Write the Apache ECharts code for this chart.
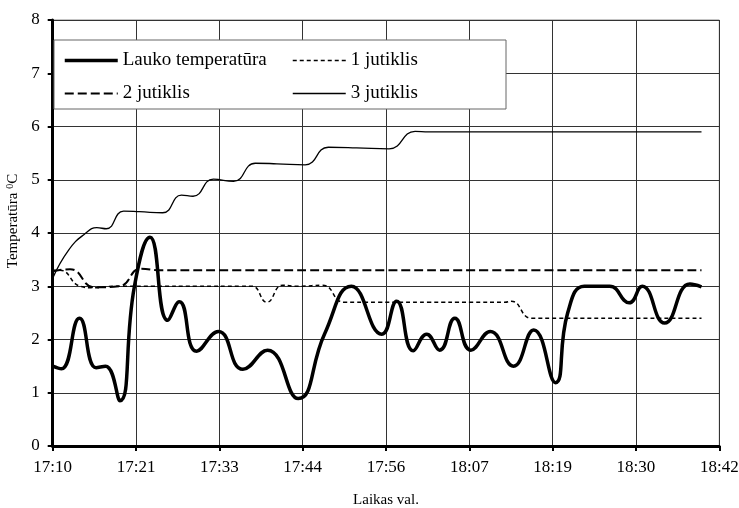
<!DOCTYPE html>
<html>
<head>
<meta charset="utf-8">
<script src="https://cdn.jsdelivr.net/npm/echarts@6/dist/echarts.min.js"></script>
<style>
  html, body { margin: 0; background: #fff; }
  #main { width: 739px; height: 508px; }
</style>
</head>
<body>
<div id="main"></div>
<script>
// laiks minūtēs no 17:10, ass solis 0.008 dienas
const tickStep = 11.52
const xTickLabels = ['17:10', '17:21', '17:33', '17:44', '17:56', '18:07', '18:19', '18:30', '18:42']

const laukoT = [0, 1.2, 3.7, 6.0, 7.3, 9.3, 11.3, 13.45, 15.9, 17.5, 19.9, 22.9, 26.3, 29.7, 33.95, 37.6, 41.3, 45.5, 47.55, 49.85, 51.7, 53.5, 55.6, 57.8, 60.5, 63.7, 66.5, 69.5, 71.2, 73.5, 75.7, 77, 79.7, 81.5, 84.6, 88.1, 89.7]
const laukoV = [1.5, 1.45, 2.4, 1.47, 1.5, 0.85, 3.0, 3.92, 2.36, 2.71, 1.78, 2.15, 1.44, 1.8, 0.89, 2.11, 3.0, 2.1, 2.72, 1.79, 2.1, 1.8, 2.4, 1.8, 2.15, 1.5, 2.18, 1.19, 2.5, 3.0, 3.0, 3.0, 2.69, 3.0, 2.31, 3.04, 2.99]

const j1T = [0, 1, 3.8, 5.6, 8.5, 14, 20, 26, 27.6, 29.6, 31.8, 34, 37.3, 40.3, 45, 52, 58, 62.5, 63.4, 66.2, 70, 80, 89.7]
const j1V = [3.3, 3.3, 3.0, 2.97, 3.0, 3.0, 3.0, 3.0, 3.0, 2.7, 3.02, 3.0, 3.02, 2.7, 2.7, 2.7, 2.7, 2.7, 2.72, 2.4, 2.4, 2.4, 2.4]

const j2T = [0, 2.4, 5.8, 9.2, 12.2, 15, 25, 40, 60, 89.7]
const j2V = [3.28, 3.32, 2.98, 3.0, 3.33, 3.3, 3.3, 3.3, 3.3, 3.3]

const j3T = [0, 2.2, 4.5, 6.1, 7.4, 9.8, 12, 15.2, 17.8, 19.4, 22.2, 25, 28, 31, 34.9, 38.1, 42, 46.5, 50.1, 52, 60, 75, 89.7]
const j3V = [3.15, 3.68, 3.99, 4.1, 4.08, 4.41, 4.4, 4.38, 4.71, 4.69, 5.01, 4.97, 5.31, 5.3, 5.28, 5.61, 5.6, 5.58, 5.91, 5.9, 5.9, 5.9, 5.9]

function pairs(t, v) {
  return t.map((x, i) => [x, v[i]])
}

const serif = 'Liberation Serif'
const chart = echarts.init(document.getElementById('main'))

const legendBase = {
  orient: 'vertical', top: 51, padding: 0,
  itemWidth: 53, itemHeight: 14, itemGap: 14,
  selectedMode: false,
  itemStyle: { opacity: 0 },
  textStyle: { fontFamily: serif, fontSize: 19, color: '#000' }
}

chart.setOption({
  animation: false,
  backgroundColor: '#fff',
  grid: {
    left: 52.7, right: 19.7, top: 20, bottom: 62,
    outerBoundsMode: 'none',
    show: true, borderColor: '#888', borderWidth: 1
  },
  graphic: [{
    type: 'rect',
    z: 3,
    shape: { x: 54, y: 40, width: 452, height: 69 },
    style: { fill: '#fff', stroke: '#666', lineWidth: 1 }
  }],
  legend: [
    Object.assign({
      data: [
        { name: 'Lauko temperatūra', lineStyle: { width: 3.5 } },
        { name: '2 jutiklis', lineStyle: { width: 2, type: [9, 4] } }
      ],
      left: 63
    }, legendBase),
    Object.assign({
      data: [
        { name: '1 jutiklis', lineStyle: { width: 1.5, type: [4, 3] } },
        { name: '3 jutiklis', lineStyle: { width: 1.3 } }
      ],
      left: 292
    }, legendBase)
  ],
  xAxis: {
    type: 'value',
    min: 0, max: tickStep * 8, interval: tickStep,
    name: 'Laikas val.',
    nameLocation: 'middle', nameGap: 47,
    nameTextStyle: { fontFamily: serif, fontSize: 15, color: '#000' },
    axisLine: { lineStyle: { color: '#000', width: 3 } },
    axisTick: { length: 5, lineStyle: { color: '#000', width: 2 } },
    axisLabel: {
      margin: 13, fontFamily: serif, fontSize: 17, color: '#000',
      formatter: v => xTickLabels[Math.round(v / tickStep)]
    },
    splitLine: { show: true, lineStyle: { color: '#333', width: 1 } }
  },
  yAxis: {
    type: 'value',
    min: 0, max: 8, interval: 1,
    name: 'Temperatūra {s|0}C',
    nameLocation: 'middle', nameGap: 28,
    nameTextStyle: {
      fontFamily: serif, fontSize: 15, color: '#000',
      padding: [0, 0, 0, 24],
      rich: { s: { fontFamily: serif, fontSize: 10, color: '#000', verticalAlign: 'top', lineHeight: 11 } }
    },
    axisLine: { show: true, lineStyle: { color: '#000', width: 3 } },
    axisTick: { show: true, length: 5, lineStyle: { color: '#000', width: 2 } },
    axisLabel: { margin: 13, fontFamily: serif, fontSize: 17, color: '#000' },
    splitLine: { show: true, lineStyle: { color: '#333', width: 1 } }
  },
  series: [
    {
      name: 'Lauko temperatūra', type: 'line', smooth: 0.5, symbol: 'none',
      data: pairs(laukoT, laukoV),
      lineStyle: { color: '#000', width: 3.5 }, itemStyle: { color: '#000' }
    },
    {
      name: '1 jutiklis', type: 'line', smooth: 0.5, symbol: 'none',
      data: pairs(j1T, j1V),
      lineStyle: { color: '#000', width: 1.5, type: [4, 3] }, itemStyle: { color: '#000' }
    },
    {
      name: '2 jutiklis', type: 'line', smooth: 0.5, symbol: 'none',
      data: pairs(j2T, j2V),
      lineStyle: { color: '#000', width: 2, type: [9, 4] }, itemStyle: { color: '#000' }
    },
    {
      name: '3 jutiklis', type: 'line', smooth: 0.5, symbol: 'none',
      data: pairs(j3T, j3V),
      lineStyle: { color: '#000', width: 1.3 }, itemStyle: { color: '#000' }
    }
  ]
})
</script>
</body>
</html>
